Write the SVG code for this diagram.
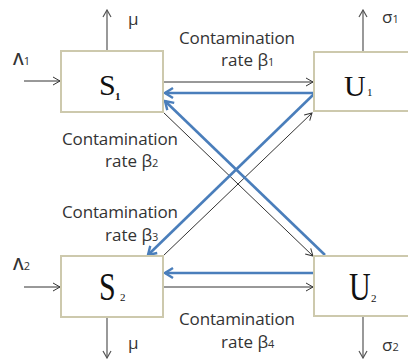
<svg xmlns="http://www.w3.org/2000/svg" width="408" height="360" viewBox="0 0 408 360">
<style>
.box{fill:#fff;stroke:#cdc9ad;stroke-width:2}
.lbl{font-family:"Open Sans","Liberation Sans",sans-serif;font-size:17px;fill:#333}
.sm{font-size:11px}
.big{font-family:"Liberation Serif","Times New Roman",serif;font-size:30px;fill:#111}
.sub{font-family:"Liberation Serif","Times New Roman",serif;font-size:11px;fill:#111}
.blk{stroke:#333;stroke-width:1;fill:none;marker-end:url(#ah)}
.gry{stroke:#808080;stroke-width:1.6;fill:none;marker-end:url(#ahg)}
.blu{stroke:#4a7ebb;stroke-width:2.6;fill:none;marker-end:url(#ahb)}
</style>
<defs>
<marker id="ah" markerUnits="userSpaceOnUse" viewBox="-9 -5 10 10" refX="0" refY="0" markerWidth="10" markerHeight="10" orient="auto">
<path d="M-7,-4 L0,0 L-7,4" fill="none" stroke="#333" stroke-width="1"/>
</marker>
<marker id="ahg" markerUnits="userSpaceOnUse" viewBox="-9 -5 10 10" refX="0" refY="0" markerWidth="10" markerHeight="10" orient="auto">
<path d="M-7,-4 L0,0 L-7,4" fill="none" stroke="#555" stroke-width="1.2"/>
</marker>
<marker id="ahb" markerUnits="userSpaceOnUse" viewBox="-11 -7 13 14" refX="0" refY="0" markerWidth="13" markerHeight="14" orient="auto">
<path d="M-8,-5 L0,0 L-8,5" fill="none" stroke="#4a7ebb" stroke-width="2.4"/>
</marker>
</defs>

<g id="connectors">
<line class="blk" x1="24" y1="81" x2="60" y2="81"/>
<line class="blk" x1="24" y1="287" x2="60" y2="287"/>
<line class="gry" x1="107" y1="51" x2="107" y2="10"/>
<line class="gry" x1="363" y1="52" x2="363" y2="10"/>
<line class="gry" x1="107" y1="317" x2="107" y2="358"/>
<line class="gry" x1="363" y1="316" x2="363" y2="358"/>
<line class="blk" x1="163" y1="82" x2="313" y2="82"/>
<line class="blk" x1="163" y1="287" x2="313" y2="287"/>
<line class="blk" x1="163" y1="112" x2="313" y2="256"/>
<line class="blk" x1="163" y1="256" x2="312" y2="113"/>
<line class="blu" x1="314" y1="93" x2="165" y2="93"/>
<line class="blu" x1="314" y1="273" x2="165" y2="273"/>
<line class="blu" x1="314" y1="94" x2="148" y2="255"/>
<line class="blu" x1="325" y1="255" x2="165" y2="101"/>
</g>

<g id="S1">
<rect class="box" x="61" y="51" width="102" height="61"/>
<text class="big" x="99" y="95">S</text>
<text class="sub" x="115" y="100" font-weight="bold" font-size="13">1</text>
</g>
<g id="U1">
<rect class="box" x="314" y="52" width="100" height="59"/>
<text class="big" x="344" y="96">U</text>
<text class="sub" x="367" y="96">1</text>
</g>
<g id="S2">
<rect class="box" x="61" y="256" width="102" height="61"/>
<text class="big" transform="translate(99,300) scale(1,1.3)">S</text>
<text class="sub" x="120" y="301">2</text>
</g>
<g id="U2">
<rect class="box" x="314" y="256" width="100" height="60"/>
<text class="big" transform="translate(349,300) scale(1,1.3)">U</text>
<text class="sub" x="371" y="302">2</text>
</g>

<g id="labels">
<text class="lbl" x="13" y="65" font-size="18" font-weight="600">Λ<tspan class="sm" font-weight="normal">1</tspan></text>
<text class="lbl" x="13" y="270" font-size="18" font-weight="600">Λ<tspan class="sm" font-weight="normal">2</tspan></text>
<text class="lbl" x="128" y="25" font-size="15">μ</text>
<text class="lbl" x="128" y="349" font-size="15">μ</text>
<text class="lbl" x="382" y="23">σ<tspan class="sm">1</tspan></text>
<text class="lbl" x="382" y="351">σ<tspan class="sm">2</tspan></text>
<text class="lbl" x="179" y="44" textLength="116">Contamination</text>
<text class="lbl" x="221" y="66">rate  β<tspan class="sm">1</tspan></text>
<text class="lbl" x="62" y="145" textLength="116">Contamination</text>
<text class="lbl" x="105" y="167">rate β<tspan class="sm">2</tspan></text>
<text class="lbl" x="62" y="218" textLength="116">Contamination</text>
<text class="lbl" x="105" y="241">rate β<tspan class="sm">3</tspan></text>
<text class="lbl" x="179" y="325" textLength="116">Contamination</text>
<text class="lbl" x="221" y="348">rate β<tspan class="sm">4</tspan></text>
</g>
</svg>
